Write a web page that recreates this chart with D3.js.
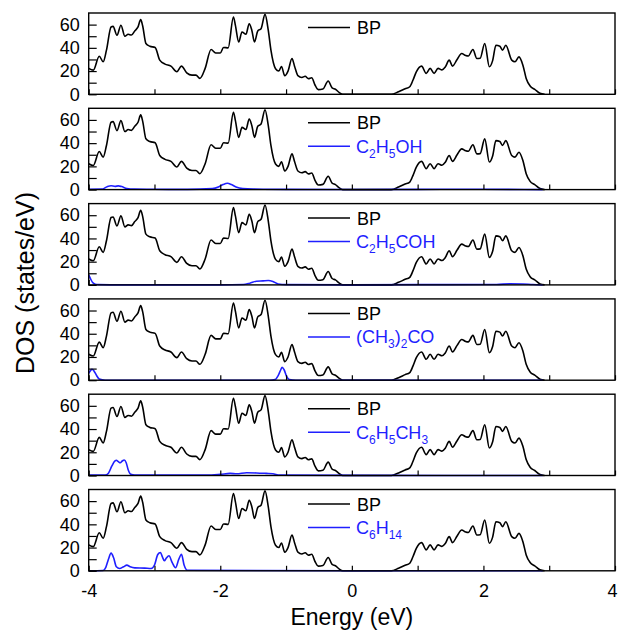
<!DOCTYPE html>
<html lang="en">
<head>
<meta charset="UTF-8">
<title>DOS panels</title>
<script src="https://d3js.org/d3.v7.min.js"></script>
<style>
  body { margin: 0; background: #fff; }
  svg { display: block; font-family: "Liberation Sans", Arial, sans-serif; }
  .frame { fill: none; stroke: #000; stroke-width: 1.4px; }
  .bp { fill: none; stroke: #000; stroke-width: 1.6px; }
  .ads { fill: none; stroke: #1f1fff; stroke-width: 1.6px; }
  .tick line { stroke: #000; stroke-width: 1.2px; }
  .tick text { font-size: 18px; fill: #000; }
  .legend { font-size: 18px; }
  .title { font-size: 23px; fill: #000; }
</style>
</head>
<body>
<svg width="619" height="631"></svg>
<script>
// BP total DOS (same curve in every panel)
const bpEnergy = [-4.00, -3.93, -3.84, -3.78, -3.73, -3.66, -3.63, -3.57, -3.51, -3.45, -3.40, -3.35,
  -3.30, -3.25, -3.21, -3.18, -3.13, -3.07, -2.99, -2.92, -2.84, -2.75, -2.66, -2.59, -2.51, -2.43,
  -2.37, -2.31, -2.23, -2.14, -2.07, -2.00, -1.95, -1.88, -1.80, -1.77, -1.72, -1.67, -1.61, -1.56,
  -1.52, -1.48, -1.43, -1.38, -1.32, -1.27, -1.23, -1.16, -1.11, -1.07, -1.02, -0.97, -0.91, -0.87,
  -0.82, -0.76, -0.71, -0.66, -0.61, -0.56, -0.51, -0.44, -0.36, -0.30, -0.25, -0.19, -0.14,
  0.60, 0.71, 0.81, 0.88, 0.93, 0.98, 1.06, 1.13, 1.19, 1.25, 1.31, 1.37, 1.42, 1.48, 1.53, 1.60,
  1.67, 1.73, 1.77, 1.84, 1.90, 1.95, 2.02, 2.09, 2.14, 2.19, 2.25, 2.29, 2.34, 2.43, 2.48, 2.54,
  2.60, 2.65, 2.71, 2.78, 2.86, 2.93];
const bpDos = [22.3, 20.8, 32.8, 28, 38, 58, 58.5, 50.8, 59.4, 50, 51.7, 51,
  54.5, 58, 64.3, 59, 43.7, 41.4, 40.3, 29.4, 26, 24.3, 19.4, 24.3, 18.5, 16.5,
  16.5, 13.7, 22.3, 38.6, 35.6, 35.6, 40.3, 40, 66.5, 59.4, 45, 53.6, 51.7, 60.8,
  55, 45, 54.5, 56.5, 68.8, 55, 38, 22, 20, 24, 16, 20, 30.8, 24,
  16, 14.5, 15.5, 13.5, 14.3, 8, 4, 4.5, 11.5, 5.5, 4.3, 1.5, 0,
  0, 2.2, 4.8, 6.5, 12.3, 19.4, 24.3, 18, 22.3, 18, 22.3, 21, 23.5, 29.4, 24.3, 30,
  35.1, 33.4, 33, 38.6, 30.8, 31, 43.7, 23.7, 29, 42.2, 41.4, 38, 42.2, 29.4, 28, 32.2,
  25.1, 13.7, 7.1, 4.3, 0.9, 0];

// adsorbate projected DOS
const ethanolE = [-4, -3.8, -3.72, -3.66, -3.6, -3.55, -3.5, -3.42, -3.3, -3.0, -2.5, -2.12, -2.02,
  -1.96, -1.89, -1.83, -1.76, -1.66, -1.5, -1.0, 0, 1, 2, 2.9];
const ethanolD = [0.3, 0.4, 2.5, 3.3, 2.8, 3.2, 2.6, 1, 0.5, 0.3, 0.2, 0.8, 2.5, 4.3, 5.5, 4.3, 2.2, 0.8, 0.4, 0.2, 0.1, 0.2, 0.3, 0];

const propanalE = [-4, -3.97, -3.94, -3.9, -3.85, -3.5, -2.0, -1.65, -1.55, -1.45, -1.35, -1.27,
  -1.2, -1.12, -1.0, 0, 1, 2.2, 2.4, 2.6, 2.75, 2.9];
const propanalD = [8.6, 5, 2, 0.6, 0.2, 0, 0, 0.3, 1.5, 3.2, 3.5, 3.8, 3, 0.8, 0.2, 0, 0.2, 0.4, 1, 0.8, 0.3, 0];

const acetoneE = [-4, -3.97, -3.95, -3.92, -3.88, -3.84, -3.75, -1.25, -1.17, -1.12, -1.08, -1.06,
  -1.03, -0.99, -0.95, -0.85, 2.9];
const acetoneD = [6, 8.5, 9.4, 8, 4, 1, 0, 0, 0.5, 4, 9, 11.1, 9, 3, 0.5, 0, 0];

const tolueneE = [-4, -3.75, -3.7, -3.65, -3.6, -3.58, -3.55, -3.52, -3.49, -3.46, -3.43, -3.4, -3.36,
  -3.3, -2.2, -2.0, -1.85, -1.75, -1.6, -1.45, -1.3, -1.2, -1.1, 0, 2.9];
const tolueneD = [0.3, 0.3, 2, 8, 12.5, 13.1, 12, 11, 12.5, 13.4, 11, 5, 1, 0.3, 0.3, 1, 1.8, 1.5, 2.4,
  2.2, 1.8, 1.5, 0.3, 0.1, 0];

const hexaneE = [-4, -3.78, -3.74, -3.70, -3.66, -3.62, -3.58, -3.53, -3.47, -3.42, -3.37, -3.3, -3.15,
  -3.05, -3.0, -2.95, -2.91, -2.88, -2.85, -2.82, -2.78, -2.73, -2.68, -2.63, -2.59, -2.55, -2.5, 0, 2.9];
const hexaneD = [0, 0.3, 3, 10, 15.2, 11, 3.5, 2, 3.5, 4.9, 3.5, 2.5, 2.3, 2, 5, 14, 15.8, 12, 8.6, 11,
  12.9, 7, 2.6, 10, 14.3, 5, 0.5, 0, 0];

const adsLabels = [null, "C_2H_5OH", "C_2H_5COH", "(CH_3)_2CO", "C_6H_5CH_3", "C_6H_14"];
const adsEnergies = [null, ethanolE, propanalE, acetoneE, tolueneE, hexaneE];
const adsValues = [null, ethanolD, propanalD, acetoneD, tolueneD, hexaneD];

const yTicks = [0, 10, 20, 30, 40, 50, 60];
const yLabels = [0, 20, 40, 60];
const xTicks = [-4, -3, -2, -1, 0, 1, 2, 3, 4];
const xLabels = [-4, -2, 0, 2, 4];

const svg = d3.select("svg");
const left = 88.7, right = 615, top0 = 13, step = 95.3, ph = 81.3;

const x = d3.scaleLinear().domain([-4, 4]).range([left, right]);
const y = d3.scaleLinear().domain([0, 70]).range([ph, 0]);

const line = d3.line()
  .x(d => x(d[0]))
  .y(d => y(d[1]))
  .curve(d3.curveMonotoneX);

const bp = d3.zip(bpEnergy, bpDos);

// draw text with _n subscripts
function formula(textSel, s) {
  const parts = s.split(/(_\d+)/).filter(p => p.length);
  parts.forEach((p, i) => {
    const sub = p[0] === "_";
    const prevSub = i > 0 && parts[i - 1][0] === "_";
    textSel.append("tspan")
      .attr("dy", sub ? 5 : (prevSub ? -5 : 0))
      .style("font-size", sub ? "12px" : null)
      .text(sub ? p.slice(1) : p);
  });
}

adsLabels.forEach((lab, i) => {
  const g = svg.append("g").attr("transform", `translate(0,${top0 + i * step})`);

  g.append("path").datum(bp).attr("class", "bp").attr("d", line);
  if (lab) {
    g.append("path").datum(d3.zip(adsEnergies[i], adsValues[i]))
      .attr("class", "ads").attr("d", line);
  }

  // y axis, inward ticks
  g.append("g")
    .attr("transform", `translate(${left},0)`)
    .call(d3.axisLeft(y).tickValues(yTicks).tickSize(-8).tickPadding(9)
      .tickFormat(d => yLabels.includes(d) ? d : ""))
    .call(a => a.select(".domain").remove());

  // x axis, inward ticks; labels on the bottom panel only
  g.append("g")
    .attr("transform", `translate(0,${ph})`)
    .call(d3.axisBottom(x).tickValues(xTicks).tickSize(-5).tickPadding(13)
      .tickFormat(d => (i === 5 && xLabels.includes(d)) ? String(d) : ""))
    .call(a => a.select(".domain").remove())
    .call(a => a.selectAll(".tick text").filter(d => d === 4).attr("dx", -3));

  g.append("rect").attr("class", "frame")
    .attr("x", left).attr("y", 0).attr("width", right - left).attr("height", ph);

  // legend
  const leg = g.append("g").attr("class", "legend");
  leg.append("line").attr("x1", 308).attr("x2", 350).attr("y1", 14.5).attr("y2", 14.5)
    .attr("stroke", "#000").attr("stroke-width", 1.5);
  leg.append("text").attr("x", 357).attr("y", 21).text("BP");
  if (lab) {
    leg.append("line").attr("x1", 308).attr("x2", 350).attr("y1", 38).attr("y2", 38)
      .attr("stroke", "#1f1fff").attr("stroke-width", 1.5);
    leg.append("text").attr("x", 356).attr("y", 44.5).attr("fill", "#1f1fff")
      .call(t => formula(t, lab));
  }
});

svg.append("text").attr("class", "title")
  .attr("x", (left + right) / 2).attr("y", 625).attr("text-anchor", "middle")
  .text("Energy (eV)");

svg.append("text").attr("class", "title")
  .style("font-size", "25px")
  .attr("transform", `translate(34,283) rotate(-90)`)
  .attr("text-anchor", "middle")
  .text("DOS (states/eV)");
</script>
</body>
</html>
